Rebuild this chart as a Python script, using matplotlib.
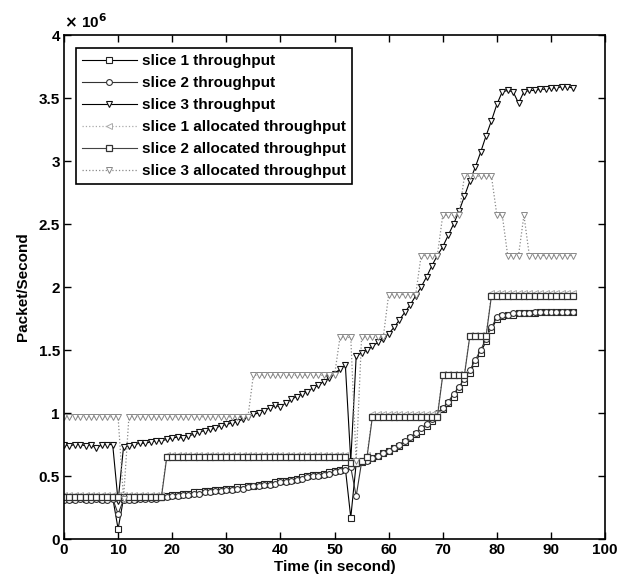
import numpy as np
import matplotlib
matplotlib.use('Agg')
import matplotlib.pyplot as plt
from matplotlib import font_manager
from matplotlib.ticker import FuncFormatter, MultipleLocator

# narrow font if one is installed, otherwise Liberation Sans
fam = 'Liberation Sans'
try:
    font_manager.findfont('Liberation Sans Narrow', fallback_to_default=False)
    fam = 'Liberation Sans Narrow'
except Exception:
    pass
plt.rcParams['font.family'] = [fam, 'DejaVu Sans']
plt.rcParams['font.weight'] = 'bold'
narrow = fam.endswith('Narrow')

# time axis, one sample per second
t = list(range(95))

# slice 1 throughput (x 10^6 packet/s)
slice1_tp = ([0.33, 0.32, 0.33, 0.33, 0.32, 0.33, 0.33, 0.32, 0.33, 0.33]
             + [0.08, 0.32, 0.32, 0.32, 0.33, 0.33, 0.33, 0.33, 0.33, 0.34]
             + [0.35, 0.35, 0.36, 0.36, 0.37, 0.37, 0.38, 0.38, 0.39, 0.39]
             + [0.40, 0.40, 0.41, 0.41, 0.42, 0.42, 0.43, 0.44, 0.44, 0.45]
             + [0.46, 0.46, 0.47, 0.48, 0.49, 0.50, 0.51, 0.51, 0.52, 0.53]
             + [0.54, 0.55, 0.56, 0.17, 0.60, 0.61, 0.63, 0.64, 0.66, 0.68]
             + [0.70, 0.72, 0.74, 0.77, 0.80, 0.83, 0.86, 0.90, 0.94, 0.98]
             + [1.03, 1.08, 1.13, 1.19, 1.25, 1.32, 1.40, 1.48, 1.57, 1.66]
             + [1.75, 1.77, 1.78, 1.78, 1.79, 1.79, 1.79, 1.79, 1.80, 1.80]
             + [1.80, 1.80, 1.80, 1.80, 1.80])

# slice 2 throughput
slice2_tp = ([0.31, 0.31, 0.31, 0.32, 0.31, 0.31, 0.32, 0.31, 0.31, 0.32]
             + [0.20, 0.31, 0.31, 0.31, 0.32, 0.32, 0.32, 0.32, 0.33, 0.33]
             + [0.34, 0.34, 0.35, 0.35, 0.36, 0.36, 0.37, 0.37, 0.38, 0.38]
             + [0.39, 0.39, 0.40, 0.40, 0.41, 0.42, 0.42, 0.43, 0.43, 0.44]
             + [0.45, 0.45, 0.46, 0.47, 0.48, 0.49, 0.50, 0.50, 0.51, 0.52]
             + [0.53, 0.54, 0.55, 0.57, 0.34, 0.61, 0.62, 0.64, 0.66, 0.68]
             + [0.70, 0.72, 0.75, 0.78, 0.81, 0.84, 0.88, 0.91, 0.95, 1.00]
             + [1.04, 1.09, 1.15, 1.21, 1.27, 1.34, 1.42, 1.50, 1.59, 1.68]
             + [1.76, 1.78, 1.78, 1.79, 1.79, 1.79, 1.79, 1.80, 1.80, 1.80]
             + [1.80, 1.80, 1.80, 1.80, 1.80])

# slice 3 throughput
slice3_tp = ([0.75, 0.74, 0.75, 0.75, 0.74, 0.75, 0.72, 0.75, 0.75, 0.75]
             + [0.30, 0.73, 0.74, 0.75, 0.76, 0.76, 0.77, 0.78, 0.78, 0.79]
             + [0.80, 0.81, 0.80, 0.82, 0.83, 0.85, 0.86, 0.87, 0.88, 0.90]
             + [0.91, 0.92, 0.93, 0.95, 0.97, 0.99, 1.00, 1.02, 1.04, 1.06]
             + [1.05, 1.08, 1.11, 1.13, 1.15, 1.17, 1.20, 1.22, 1.25, 1.28]
             + [1.31, 1.35, 1.38, 0.62, 1.45, 1.48, 1.50, 1.53, 1.56, 1.59]
             + [1.63, 1.68, 1.74, 1.80, 1.86, 1.93, 2.00, 2.08, 2.17, 2.25]
             + [2.32, 2.41, 2.50, 2.60, 2.72, 2.84, 2.95, 3.07, 3.20, 3.32]
             + [3.45, 3.55, 3.56, 3.55, 3.46, 3.55, 3.56, 3.56, 3.57, 3.57]
             + [3.58, 3.58, 3.59, 3.59, 3.58])

# allocated throughput (step levels)
slice1_alloc = ([0.35] * 19 + [0.67] * 34 + [0.62, 0.60, 0.63, 0.67]
                + [0.99] * 13 + [1.31] * 5 + [1.62] * 4 + [1.95] * 16)
slice2_alloc = ([0.33] * 19 + [0.65] * 34 + [0.60, 0.60, 0.62, 0.65]
                + [0.97] * 13 + [1.30] * 5 + [1.61] * 4 + [1.93] * 16)
slice3_alloc = ([0.97] * 11 + [0.32] + [0.97] * 23 + [1.30] * 16
                + [1.60] * 3 + [0.62] + [1.60] * 5 + [1.94] * 6
                + [2.25] * 4 + [2.57] * 4 + [2.88] * 6 + [2.57] * 2
                + [2.25] * 3 + [2.57] + [2.25] * 9)

labels = ['slice 1 throughput', 'slice 2 throughput', 'slice 3 throughput',
          'slice 1 allocated throughput', 'slice 2 allocated throughput',
          'slice 3 allocated throughput']

fig = plt.figure(figsize=(6.17, 5.84), dpi=100)
ax = fig.add_axes([0.1037, 0.077, 0.877, 0.863])

ms = 4.2
ax.plot(t, slice1_tp, '-', color='black', lw=0.8, marker='s', ms=ms,
        mfc='white', mec='#222222', mew=0.8, label=labels[0])
ax.plot(t, slice2_tp, '-', color='#333333', lw=0.8, marker='o', ms=ms,
        mfc='white', mec='#333333', mew=0.8, label=labels[1])
ax.plot(t, slice3_tp, '-', color='black', lw=0.8, marker='v', ms=ms + 0.5,
        mfc='white', mec='#111111', mew=0.8, label=labels[2])
ax.plot(t, slice1_alloc, ':', color='#aaaaaa', lw=0.9, marker='<', ms=ms,
        mfc='white', mec='#aaaaaa', mew=0.7, label=labels[3])
ax.plot(t, slice2_alloc, '-', color='#444444', lw=0.8, marker='s', ms=ms + 0.5,
        mfc='white', mec='#333333', mew=0.9, label=labels[4])
ax.plot(t, slice3_alloc, ':', color='#888888', lw=0.9, marker='v', ms=ms,
        mfc='white', mec='#888888', mew=0.7, label=labels[5])

fs = 12.5 if narrow else 11
ax.set_xlim(0, 100)
ax.set_ylim(0, 4)
ax.xaxis.set_major_locator(MultipleLocator(10))
ax.yaxis.set_major_locator(MultipleLocator(0.5))
ax.yaxis.set_major_formatter(FuncFormatter(lambda v, p: '%g' % v))
ax.tick_params(direction='in', top=True, right=True, length=5, width=1,
               labelsize=fs, pad=3)
for s in ax.spines.values():
    s.set_linewidth(1.2)

ax.set_xlabel('Time (in second)', fontsize=fs, fontweight='bold', labelpad=2)
ax.set_ylabel('Packet/Second', fontsize=fs, fontweight='bold', labelpad=6)
ax.text(0.0, 1.008, r'$\mathbf{\times}$ 10$^{6}$', transform=ax.transAxes,
        fontsize=fs, fontweight='bold', ha='left', va='bottom')

lfs = 12.5 if narrow else 11
leg = ax.legend(loc='upper left', bbox_to_anchor=(0.022, 0.974), borderaxespad=0,
                handlelength=3.6, handletextpad=0.3,
                labelspacing=0.52, fancybox=False, framealpha=1,
                edgecolor='black', prop={'weight': 'bold', 'size': lfs})
leg.get_frame().set_linewidth(1.2)

fig.savefig('out.png', dpi=100)
